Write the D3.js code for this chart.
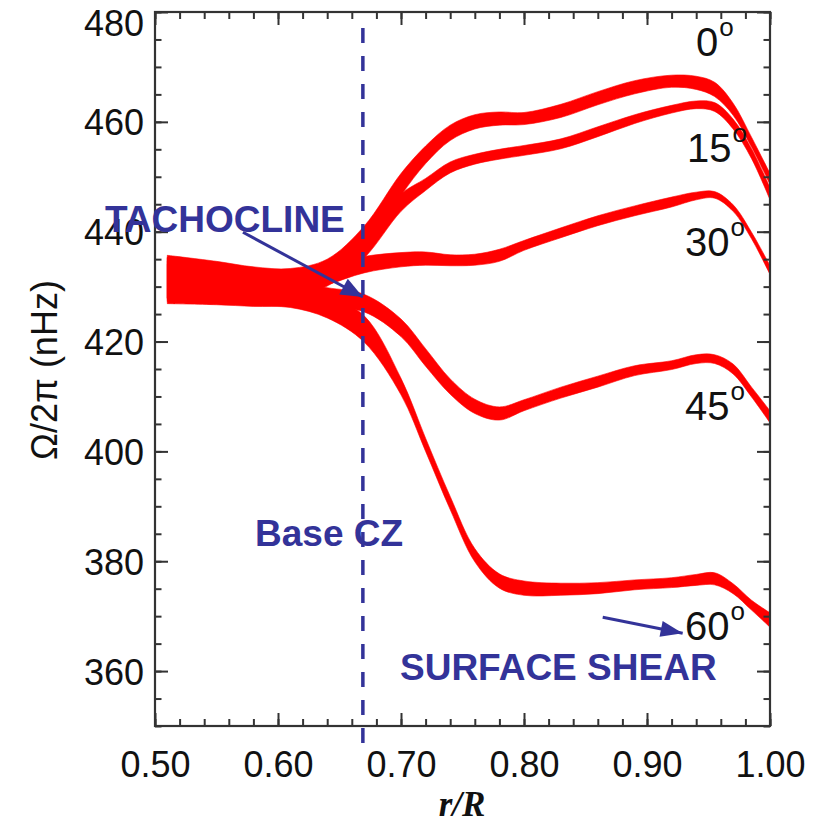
<!DOCTYPE html>
<html>
<head>
<meta charset="utf-8">
<script src="https://cdn.jsdelivr.net/npm/d3@7"></script>
<style>
  body { margin: 0; background: #fff; }
</style>
</head>
<body>
<div id="paper"></div>
<script>
// radius sample points (r/R) shared by all latitude bands
const radius = [0.51, 0.55, 0.58, 0.61, 0.64, 0.67, 0.70, 0.72, 0.74, 0.76, 0.78,
                0.80, 0.83, 0.86, 0.89, 0.92, 0.94, 0.955, 0.97, 0.985, 1.0];

// rotation rate (nHz) and half width of the band, one pair per latitude
const omega00 = [431.8, 431.2, 430.6, 430.6, 432.8, 438.6, 448.6, 454.0, 458.0, 460.0, 460.6,
                 460.6, 462.0, 464.3, 466.3, 467.4, 467.1, 465.9, 462.3, 456.3, 449.6];
const err00   = [3.9, 3.4, 3.0, 2.7, 2.2, 2.4, 2.0, 1.6, 1.4, 1.3, 1.2,
                 1.1, 1.2, 1.2, 1.2, 1.1, 1.2, 1.3, 1.1, 0.9, 1.0];

const omega15 = [431.6, 431.0, 430.5, 430.4, 432.2, 437.5, 445.3, 448.6, 451.7, 453.2, 454.1,
                 454.8, 456.0, 458.2, 460.5, 462.3, 463.1, 462.7, 459.6, 454.2, 446.9];
const err15   = [3.7, 3.3, 2.9, 2.6, 2.1, 2.3, 1.6, 1.1, 1.0, 0.9, 0.9,
                 0.9, 0.9, 0.9, 0.8, 0.7, 0.7, 0.8, 0.9, 0.9, 1.1];

const omega30 = [431.5, 431.0, 430.5, 430.6, 432.2, 434.0, 434.9, 435.1, 434.8, 434.9, 435.7,
                 437.5, 439.8, 442.0, 443.8, 445.4, 446.5, 446.7, 444.3, 439.3, 433.0];
const err30   = [3.8, 3.3, 2.9, 2.5, 1.9, 1.5, 1.3, 1.2, 1.0, 1.0, 1.1,
                 0.9, 0.9, 0.9, 0.9, 0.9, 0.7, 0.6, 0.6, 0.6, 0.8];

const omega45 = [431.0, 430.2, 429.5, 428.7, 428.0, 427.0, 422.5, 417.1, 411.8, 408.2, 406.9,
                 408.4, 410.7, 412.7, 414.7, 415.7, 416.8, 416.8, 415.0, 410.8, 406.3];
const err45   = [3.7, 3.0, 2.5, 2.1, 1.8, 1.6, 1.6, 1.6, 1.4, 1.3, 1.2,
                 1.0, 1.0, 1.0, 0.9, 0.8, 0.8, 0.8, 0.9, 0.9, 1.1];

const omega60 = [430.5, 429.5, 428.8, 428.2, 426.3, 422.3, 411.8, 401.2, 390.6, 381.1, 376.4,
                 375.1, 374.9, 375.1, 375.7, 376.1, 376.6, 376.8, 375.0, 372.0, 369.3];
const err60   = [3.6, 2.8, 2.4, 2.0, 2.0, 2.4, 1.5, 1.2, 1.2, 1.2, 1.3,
                 1.3, 1.1, 1.0, 0.9, 0.9, 1.0, 1.1, 0.9, 0.9, 1.3];

const latitudes = ["0", "15", "30", "45", "60"];
const xTicks = [0.50, 0.60, 0.70, 0.80, 0.90, 1.00];
const yTicks = [360, 380, 400, 420, 440, 460, 480];
const baseCZ = 0.669;

const blue = "#333399";
const axisColor = "#333";

const x = d3.scaleLinear().domain([0.5, 1.0]).range([155, 770]);
const y = d3.scaleLinear().domain([350, 480]).range([726, 12]);

const svg = d3.select("#paper")
  .append("svg")
  .attr("id", "canvas")
  .attr("width", 820)
  .attr("height", 823)
  .style("background-color", "white");

// bands
const series = [
  {lat: "0",  om: omega00, er: err00},
  {lat: "15", om: omega15, er: err15},
  {lat: "30", om: omega30, er: err30},
  {lat: "45", om: omega45, er: err45},
  {lat: "60", om: omega60, er: err60}
];

const band = d3.area()
  .curve(d3.curveCatmullRom.alpha(0.5))
  .x(d => x(d.r))
  .y0(d => y(d.v - d.e))
  .y1(d => y(d.v + d.e));

svg.selectAll(".band")
  .data(series)
  .join("path")
  .attr("class", "band")
  .attr("d", s => band(radius.map((r, i) => ({r: r, v: s.om[i], e: s.er[i]}))))
  .attr("fill", "#ff0000")
  .attr("stroke", "#ff0000")
  .attr("stroke-width", 0.6);

// axes with inward ticks on all four sides
function styleAxis(g) {
  g.select(".domain").remove();
  g.selectAll(".tick line").attr("stroke", axisColor).attr("stroke-width", 2);
  g.selectAll(".tick text")
    .attr("font-family", "Liberation Sans, Arial, sans-serif")
    .attr("font-size", "36px")
    .attr("fill", "#111");
}

const minorY = d3.range(350, 481, 5);
const minorX = d3.range(0.5, 1.001, 0.02);

svg.append("g").attr("transform", "translate(155,0)")
  .call(d3.axisLeft(y).tickValues(minorY).tickSize(-6.5).tickFormat("")).call(styleAxis);
svg.append("g").attr("transform", "translate(770,0)")
  .call(d3.axisRight(y).tickValues(minorY).tickSize(-6.5).tickFormat("")).call(styleAxis);
svg.append("g").attr("transform", "translate(0,726)")
  .call(d3.axisBottom(x).tickValues(minorX).tickSize(-7).tickFormat("")).call(styleAxis);
svg.append("g").attr("transform", "translate(0,12)")
  .call(d3.axisTop(x).tickValues(minorX).tickSize(-7).tickFormat("")).call(styleAxis);

const leftAxis = svg.append("g").attr("transform", "translate(155,0)")
  .call(d3.axisLeft(y).tickValues(yTicks).tickSize(-13).tickPadding(11).tickFormat(d3.format("d")))
  .call(styleAxis);
leftAxis.selectAll(".tick text").attr("dy", d => d == 480 ? "0.65em" : "0.36em");

svg.append("g").attr("transform", "translate(770,0)")
  .call(d3.axisRight(y).tickValues(yTicks).tickSize(-13).tickFormat("")).call(styleAxis);
svg.append("g").attr("transform", "translate(0,726)")
  .call(d3.axisBottom(x).tickValues(xTicks).tickSize(-13).tickPadding(25).tickFormat(d3.format(".2f")))
  .call(styleAxis);
svg.append("g").attr("transform", "translate(0,12)")
  .call(d3.axisTop(x).tickValues(xTicks).tickSize(-13).tickFormat("")).call(styleAxis);

// frame
svg.append("rect")
  .attr("x", 155).attr("y", 12)
  .attr("width", 615).attr("height", 714)
  .attr("fill", "none")
  .attr("stroke", axisColor)
  .attr("stroke-width", 2.2);

// axis titles
svg.append("text")
  .attr("x", 462).attr("y", 816)
  .attr("text-anchor", "middle")
  .attr("font-family", "Liberation Serif, Times New Roman, serif")
  .attr("font-style", "italic")
  .attr("font-weight", "bold")
  .attr("font-size", "35px")
  .attr("fill", "#111")
  .text("r/R");

svg.append("text")
  .attr("transform", "translate(57,370) rotate(-90)")
  .attr("text-anchor", "middle")
  .attr("font-family", "Liberation Sans, Arial, sans-serif")
  .attr("font-size", "36px")
  .attr("fill", "#111")
  .text("\u03A9/2\u03C0 (nHz)");

// base of convection zone
svg.append("line")
  .attr("x1", x(baseCZ)).attr("x2", x(baseCZ))
  .attr("y1", 28).attr("y2", 746)
  .attr("stroke", blue)
  .attr("stroke-width", 3.5)
  .attr("stroke-dasharray", "15,13");

// latitude labels
const latPos = [
  {lat: "0",  r: 0.9398, v: 471.9},
  {lat: "15", r: 0.9325, v: 452.6},
  {lat: "30", r: 0.9309, v: 435.5},
  {lat: "45", r: 0.9309, v: 405.8},
  {lat: "60", r: 0.9309, v: 365.7}
];
const latText = svg.selectAll(".lat_text")
  .data(latPos)
  .join("text")
  .attr("class", "lat_text")
  .attr("x", d => x(d.r))
  .attr("y", d => y(d.v))
  .attr("font-family", "Liberation Sans, Arial, sans-serif")
  .attr("font-size", "40px")
  .attr("fill", "#111");
latText.append("tspan").text(d => d.lat);
latText.append("tspan")
  .attr("dx", 1)
  .attr("dy", -20)
  .attr("font-size", "26px")
  .text("o");

// annotations
function arrow(x1, y1, x2, y2, len, half) {
  svg.append("line")
    .attr("x1", x1).attr("y1", y1)
    .attr("x2", x2).attr("y2", y2)
    .attr("stroke", blue)
    .attr("stroke-width", 3);
  const a = Math.atan2(y2 - y1, x2 - x1);
  const bx = x2 - len * Math.cos(a), by = y2 - len * Math.sin(a);
  const pts = [
    [x2, y2],
    [bx + half * Math.sin(a), by - half * Math.cos(a)],
    [bx - half * Math.sin(a), by + half * Math.cos(a)]
  ];
  svg.append("polygon")
    .attr("points", pts.map(p => p.join(",")).join(" "))
    .attr("fill", blue);
}

function label(txt, px, py) {
  svg.append("text")
    .attr("x", px).attr("y", py)
    .attr("font-family", "Liberation Sans, Arial, sans-serif")
    .attr("font-weight", "bold")
    .attr("font-size", "37px")
    .attr("fill", blue)
    .text(txt);
}

label("TACHOCLINE", 105, 232);
arrow(x(0.5715), y(439.9), x(baseCZ), y(428.1), 22, 9);
label("Base CZ", 255, 546);
label("SURFACE SHEAR", 400, 680);
arrow(x(0.864), y(369.8), x(0.929), y(366.9), 22, 8);
</script>
</body>
</html>
